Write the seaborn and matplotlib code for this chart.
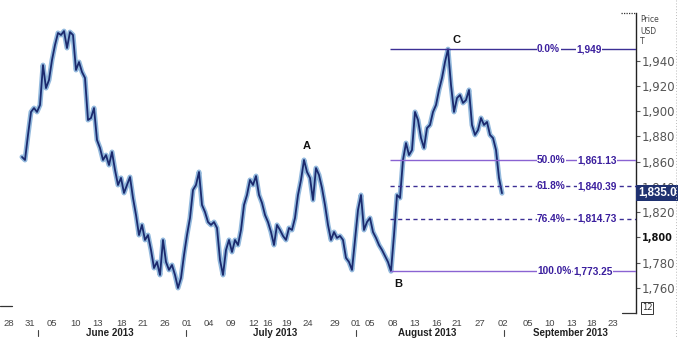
import numpy as np
import pandas as pd
import seaborn as sns
import matplotlib
matplotlib.use("Agg")
import matplotlib.pyplot as plt
from matplotlib.lines import Line2D

# ---------------- data ----------------
price = [
    1863.7, 1861.3, 1881.1, 1899.3, 1902.4, 1899.3, 1904.8, 1936.4, 1918.2, 1924.6,
    1940.4, 1952.3, 1961.8, 1960.2, 1963.3, 1949.9, 1962.5, 1960.2, 1932.5, 1938.8,
    1930.9, 1926.2, 1892.9, 1894.5, 1902.4, 1877.1, 1870.8, 1861.3, 1865.2, 1857.3,
    1867.6, 1853.4, 1841.5, 1847.1, 1835.2, 1841.5, 1847.8, 1831.2, 1817.8, 1801.9,
    1809.9, 1798.0, 1801.9, 1790.1, 1775.8, 1780.6, 1770.3, 1798.0, 1780.6, 1774.3,
    1778.2, 1770.3, 1760.0, 1767.9, 1786.1, 1801.9, 1815.4, 1837.6, 1841.5, 1851.8,
    1825.7, 1820.1, 1812.2, 1809.9, 1812.2, 1807.5, 1782.2, 1770.3, 1790.1, 1798.0,
    1788.5, 1798.0, 1794.0, 1805.9, 1825.7, 1833.6, 1845.5, 1841.5, 1848.6, 1833.6,
    1827.3, 1817.8, 1812.2, 1804.3, 1794.0, 1809.9, 1805.9, 1801.2, 1798.0, 1807.5,
    1805.9, 1815.4, 1833.6, 1845.5, 1861.3, 1851.8, 1847.1, 1829.6, 1854.9, 1849.4,
    1839.1, 1825.7, 1809.9, 1798.0, 1804.3, 1799.6, 1801.2, 1798.0, 1783.8, 1780.6,
    1774.3, 1798.0, 1821.7, 1833.6, 1805.9, 1812.2, 1815.4, 1804.3, 1799.6, 1794.0,
    1790.1, 1785.3, 1780.6, 1773.25, 1801.9, 1833.6, 1831.2, 1861.3, 1874.7, 1865.2,
    1869.2, 1899.3, 1892.9, 1878.7, 1870.8, 1886.6, 1889.0, 1899.3, 1904.8, 1916.7,
    1926.2, 1938.8, 1949.0, 1920.6, 1899.3, 1910.3, 1912.7, 1906.4, 1908.7, 1916.7,
    1889.0, 1881.1, 1885.0, 1894.5, 1889.0, 1891.4, 1881.1, 1878.7, 1869.2, 1847.1,
    1835.0,
]

fib_ratios = [0.0, 0.5, 0.618, 0.764, 1.0]
fib_pct_labels = ["0.0%", "50.0%", "61.8%", "76.4%", "100.0%"]
fib_val_labels = ["1,949", "1,861.13", "1,840.39", "1,814.73", "1,773.25"]

day_labels = ["28", "31", "05", "10", "13", "18", "21", "26", "01", "04", "09", "12",
              "16", "19", "24", "29", "01", "05", "08", "13", "16", "21", "27", "02",
              "05", "10", "13", "18", "23"]
day_pos = [-4.3, 2.7, 10.0, 17.7, 25.3, 33.3, 40.3, 47.7, 55.0, 62.3, 69.7, 77.3,
           81.7, 88.3, 95.3, 104.3, 111.3, 116.0, 123.7, 131.0, 138.3, 145.0, 152.7,
           160.3, 168.7, 176.0, 183.3, 190.0, 197.0]
month_labels = ["June 2013", "July 2013", "August 2013", "September 2013"]
month_label_pos = [29.3, 84.3, 135.0, 182.7]
month_sep_pos = [5.3, 54.7, 111.3, 160.7]

y_ticks = [1760, 1780, 1800, 1820, 1840, 1860, 1880, 1900, 1920, 1940]
last_price = 1835.0

df = pd.DataFrame({"bar": np.arange(len(price)), "price": price})

# ---------------- figure ----------------
W, H = 679, 338
sns.set_style("white")
plt.rcParams["font.family"] = ["DejaVu Sans"]
fig = plt.figure(figsize=(W / 100, H / 100), dpi=100)

def fx(px):
    return px / W

def fy(py):
    return 1 - py / H

ax_top, ax_bot, ax_left, ax_right = 13, 313, 0, 636
ax = fig.add_axes([fx(ax_left), fy(ax_bot), fx(ax_right) - fx(ax_left),
                   (ax_bot - ax_top) / H])

sns.lineplot(data=df, x="bar", y="price", ax=ax, color="#93b9dd", lw=3.6, zorder=2)
sns.lineplot(data=df, x="bar", y="price", ax=ax, color="#1b2a6e", lw=1.3, zorder=3)

ax.set_xlim(-7.333, 204.667)
ax.set_ylim(1740.2, 1977.6)
ax.set_xlabel("")
ax.set_ylabel("")

# Fibonacci retracement
arr = np.array(price)
i_low = int(np.argmin(arr[100:])) + 100
i_high = int(np.argmax(arr[i_low:])) + i_low
hi, lo = arr[i_high], arr[i_low]
fib_colors = ["#3c2f95", "#8a63d2", "#3c2f95", "#3c2f95", "#8a63d2"]
fib_styles = ["-", "-", (0, (3, 2.5)), (0, (3, 2.5)), "-"]
val_x = [184.7, 185.0, 185.0, 185.0, 183.7]
for r, pl, vl, c, ls, vx in zip(fib_ratios, fib_pct_labels, fib_val_labels, fib_colors,
                                fib_styles, val_x):
    lvl = hi - r * (hi - lo)
    ax.hlines(lvl, i_low - 0.3, 204.667, colors=c, linestyles=ls, lw=1.0, zorder=4)
    ax.text(171.7, lvl, pl, ha="left", va="center", fontsize=7.3, fontweight="bold",
            family=["Liberation Sans", "DejaVu Sans"], color="#3b1f9e", zorder=5,
            bbox=dict(facecolor="white", edgecolor="none", pad=0.3))
    ax.text(vx, lvl, vl, ha="left", va="center", fontsize=7.3,
            fontweight="bold", family=["Liberation Sans", "DejaVu Sans"], color="#3b1f9e",
            zorder=5, bbox=dict(facecolor="white", edgecolor="none", pad=0.3))

# Point labels
lab_kw = dict(fontsize=8, fontweight="bold", family=["Liberation Sans", "DejaVu Sans"],
              color="#111111", ha="center", va="center")
ax.text(95.0, 1872.0, "A", **lab_kw)
ax.text(i_low + 2.3, lo - 10.0, "B", **lab_kw)
ax.text(i_high + 2.7, hi + 7.0, "C", **lab_kw)

# spines / ticks
for s in ["left", "top", "bottom"]:
    ax.spines[s].set_visible(False)
ax.spines["right"].set_color("#222222")
ax.spines["right"].set_linewidth(1.0)
ax.yaxis.tick_right()
ax.set_yticks(y_ticks)
ax.set_yticklabels([f"{v:,}" for v in y_ticks])
ax.tick_params(axis="y", direction="out", length=3, width=0.8, color="#555555",
               labelsize=8.5, labelcolor="#555555", pad=1)
for t in ax.get_yticklabels():
    if t.get_text() == "1,800":
        t.set_fontweight("bold")
        t.set_color("#111111")
        t.set_fontsize(7)

ax.set_xticks(day_pos)
ax.set_xticklabels(day_labels)
ax.tick_params(axis="x", direction="out", length=2, width=0.8, color="#666666",
               labelsize=6.8, labelcolor="#444444", pad=2)
for t in ax.get_xticklabels():
    t.set_family(["Liberation Sans", "DejaVu Sans"])

trans = ax.get_xaxis_transform()
for p, m in zip(month_label_pos, month_labels):
    ax.text(p, -0.067, m, transform=trans, ha="center", va="center", fontsize=7,
            fontweight="bold", family=["Liberation Sans", "DejaVu Sans"], color="#222222",
            clip_on=False)
for p in month_sep_pos:
    ax.plot([p, p], [-0.055, -0.078], transform=trans, color="#444444", lw=0.8,
            clip_on=False)

# current price box
ax.text(1.003, (last_price - 1740.2) / (1977.6 - 1740.2), "1,835.0",
        transform=ax.transAxes, ha="left", va="center", fontsize=8.3, fontweight="bold",
        family=["Liberation Sans", "DejaVu Sans"],
        color="white", zorder=10, clip_on=False,
        bbox=dict(facecolor="#1f3170", edgecolor="none", pad=1.3))

# header and small decorations
fig.text(fx(640), fy(20), "Price", fontsize=5.5, color="#444444", va="center")
fig.text(fx(640), fy(31), "USD", fontsize=5.5, color="#444444", va="center")
fig.text(fx(640), fy(42), "T", fontsize=5.5, color="#444444", va="center")
fig.add_artist(Line2D([fx(621), fx(636)], [fy(13), fy(13)], color="#333333", lw=0.9,
                      ls=(0, (1, 1))))
fig.add_artist(Line2D([fx(622), fx(636)], [fy(313), fy(313)], color="#333333", lw=0.9))
fig.add_artist(Line2D([fx(0), fx(12)], [fy(306), fy(306)], color="#333333", lw=0.9))
fig.add_artist(Line2D([fx(676), fx(676)], [fy(0), fy(338)], color="#bbbbbb", lw=0.7,
                      ls=(0, (1, 2))))
fig.text(fx(647), fy(308), "12", fontsize=6, color="#333333", ha="center", va="center",
         bbox=dict(facecolor="white", edgecolor="#333333", pad=0.8, lw=0.7))

fig.savefig("out.png", dpi=100)
